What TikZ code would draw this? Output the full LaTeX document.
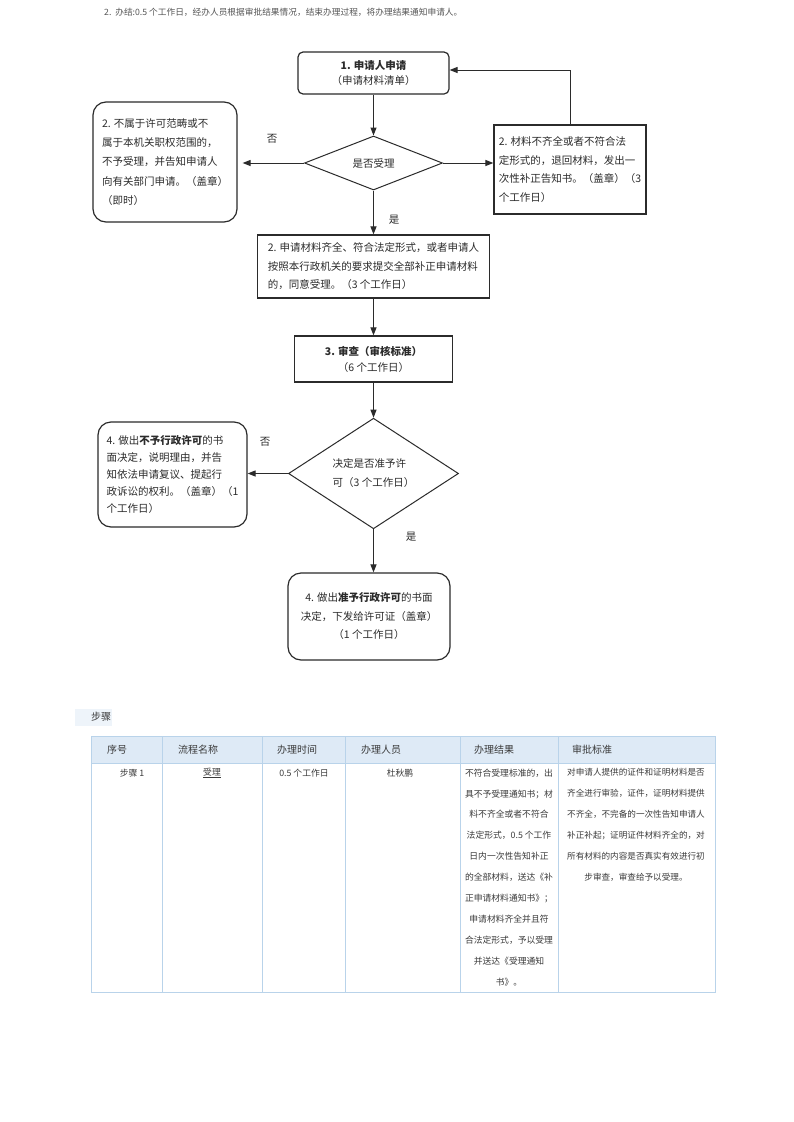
\documentclass[tikz,border=0pt]{standalone}
\usepackage{fontspec}
\setmainfont{Noto Sans CJK SC}
\usetikzlibrary{arrows.meta,shapes.geometric}
\definecolor{ink}{HTML}{2B2B2B}
\definecolor{tline}{HTML}{B9D3EA}
\definecolor{thead}{HTML}{DEEAF6}
\definecolor{ttext}{HTML}{3A3A3A}
\definecolor{stepbg}{HTML}{EEF4FA}
\definecolor{toptext}{HTML}{555555}
\begin{document}
\begin{tikzpicture}[x=1pt,y=-1pt,
  flow/.style={draw=ink, line width=1.2pt, text=ink, inner sep=0pt, align=left,
    font=\fontsize{10.5}{18.5}\selectfont},
  rbox/.style={flow, rounded corners=13pt},
  sbox/.style={flow},
  dia/.style={flow, diamond, line width=1pt, align=center},
  arr/.style={draw=ink, line width=1pt, -{Triangle[length=8pt,width=6pt]}},
  lab/.style={text=ink, inner sep=0pt, font=\fontsize{10.5}{12}\selectfont},
  th/.style={text=ttext, inner sep=0pt, anchor=west, font=\fontsize{10}{12}\selectfont},
  td/.style={text=ttext, inner sep=0pt, align=center, font=\fontsize{8.8}{20.9}\selectfont},
]
\useasboundingbox[fill=white] (0,0) rectangle (793,1122);

% top line
\node[text=toptext, inner sep=0pt, anchor=west, font=\fontsize{8.7}{10}\selectfont]
  (top) at (104,12) {2.\ \ 办结:0.5 个工作日，经办人员根据审批结果情况，结束办理过程，将办理结果通知申请人。};

% flowchart nodes
\node[flow, rounded corners=5pt, align=center, minimum width=151pt, minimum height=42pt,
  font=\fontsize{10.5}{15}\selectfont] (b1) at (373.5,73) {{\bfseries 1. 申请人申请}\\（申请材料清单）};
\node[dia, minimum width=138pt, minimum height=54pt] (d1) at (373.5,163) {是否受理};
\node[rbox, minimum width=144pt, minimum height=120pt, font=\fontsize{10.5}{19.3}\selectfont] (lno) at (165,162)
  {2. 不属于许可范畴或不\\属于本机关职权范围的，\\不予受理，并告知申请人\\向有关部门申请。（盖章）\\（即时）};
\node[sbox, minimum width=152pt, minimum height=89pt] (rno) at (570,169.5)
  {2. 材料不齐全或者不符合法\\定形式的，退回材料，发出一\\次性补正告知书。（盖章）（3\\个工作日）};
\node[sbox, minimum width=232pt, minimum height=63pt] (b2) at (373.5,266.5)
  {2. 申请材料齐全、符合法定形式，或者申请人\\按照本行政机关的要求提交全部补正申请材料\\的，同意受理。（3 个工作日）};
\node[sbox, align=center, minimum width=158pt, minimum height=46pt, font=\fontsize{10.5}{16}\selectfont] (b3) at (373.5,359)
  {{\bfseries 3. 审查（审核标准）}\\（6 个工作日）};
\node[dia, align=left, minimum width=170pt, minimum height=73pt, font=\fontsize{10.5}{19}\selectfont] (d2) at (373.5,473.5)
  {决定是否准予许\\可（3 个工作日）};
\node[rbox, minimum width=149pt, minimum height=105pt, font=\fontsize{10.5}{17}\selectfont] (l4) at (172.5,474.5)
  {4. 做出{\bfseries 不予行政许可}的书\\面决定，说明理由，并告\\知依法申请复议、提起行\\政诉讼的权利。（盖章）（1\\个工作日）};
\node[rbox, align=center, minimum width=162pt, minimum height=87pt] (f4) at (369,616.5)
  {4. 做出{\bfseries 准予行政许可}的书面\\决定，下发给许可证（盖章）\\（1 个工作日）};

% connectors
\draw[arr] (b1.south) -- (d1.north);
\draw[arr, shorten >=5pt] (d1.west) -- (d1.west -| lno.east);
\draw[arr] (d1.east) -- (d1.east -| rno.west);
\draw[arr] (rno.north) |- ([yshift=3pt]b1.east);
\draw[arr] (d1.south) -- (b2.north);
\draw[arr] (b2.south) -- (b3.north);
\draw[arr] (b3.south) -- (d2.north);
\draw[arr] (d2.west) -- (d2.west -| l4.east);
\draw[arr] (d2.south) -- (d2.south |- f4.north);

% labels
\node[lab] (no1) at (272,139) {否};
\node[lab] (yes1) at (394,220) {是};
\node[lab] (no2) at (265,442) {否};
\node[lab] (yes2) at (411,537) {是};

% steps title
\fill[stepbg] (75,709) rectangle (112,726);
\node[th] (steps) at (91,717) {步骤};

% table
\fill[thead] (91,736) rectangle (715,763);
\draw[tline, line width=1pt] (91,736) rectangle (715,992);
\draw[tline, line width=1pt] (91,763) -- (715,763);
\foreach \x in {162,262,345,460,558} \draw[tline, line width=1pt] (\x,736) -- (\x,992);

\node[th] (h1) at (107,750) {序号};
\node[th] (h2) at (178,750) {流程名称};
\node[th] (h3) at (277,750) {办理时间};
\node[th] (h4) at (361,750) {办理人员};
\node[th] (h5) at (474,750) {办理结果};
\node[th] (h6) at (572,750) {审批标准};

\node[td] (c1) at (132,773) {步骤\ 1};
\node[td] (c2) at (212,773) {\underline{受理}};
\node[td] (c3) at (304,773) {0.5 个工作日};
\node[td] (c4) at (400,773) {杜秋鹏};
\node[td, anchor=north] (c5) at (509,768.5)
  {不符合受理标准的，出\\具不予受理通知书；材\\料不齐全或者不符合\\法定形式，0.5 个工作\\日内一次性告知补正\\的全部材料，送达《补\\正申请材料通知书》；\\申请材料齐全并且符\\合法定形式，予以受理\\并送达《受理通知\\书》。};
\node[td, anchor=north, font=\fontsize{8.6}{20.9}\selectfont] (c6) at (636,768.5)
  {对申请人提供的证件和证明材料是否\\齐全进行审验，证件，证明材料提供\\不齐全，不完备的一次性告知申请人\\补正补起；证明证件材料齐全的，对\\所有材料的内容是否真实有效进行初\\步审查，审查给予以受理。};
\end{tikzpicture}
\end{document}
